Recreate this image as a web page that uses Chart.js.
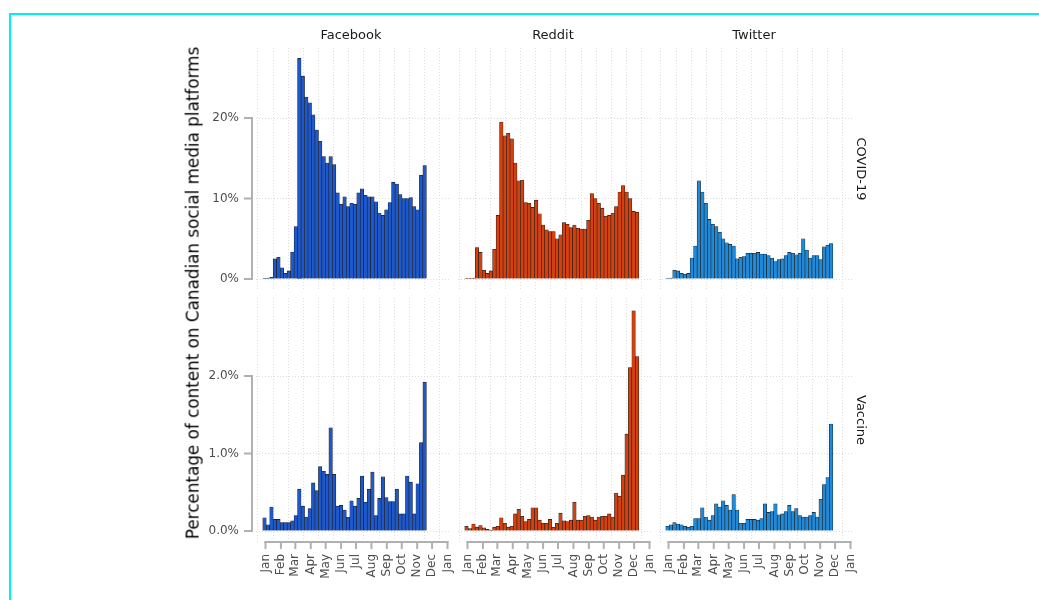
<!DOCTYPE html>
<html><head><meta charset="utf-8">
<script src="https://cdn.jsdelivr.net/npm/chart.js@4.4.1/dist/chart.umd.min.js"></script>
<style>
body{margin:0;background:#fff;width:1039px;height:600px;overflow:hidden;position:relative;font-family:"DejaVu Sans",sans-serif;}
#frame{position:absolute;left:9px;top:13px;width:1200px;height:800px;border-left:2px solid #00f0f0;border-top:2px solid #00f0f0;}
canvas{position:absolute;}
.lbl{position:absolute;white-space:nowrap;color:#1a1a1a;line-height:1;}
</style></head><body>
<div id="frame"></div>
<script>
// ---- data (weekly share of content, %) ----
const platforms = ['Facebook', 'Reddit', 'Twitter'];
const topics = ['COVID-19', 'Vaccine'];
const monthLabels = ['Jan','Feb','Mar','Apr','May','Jun','Jul','Aug','Sep','Oct','Nov','Dec','Jan'];
const monthStarts = [0,31,60,91,121,152,182,213,244,274,305,335,366]; // day of year 2020
const firstWeekDay = -2; // weeks start Mon 30 Dec 2019

const fbCovid = [0.05,0.1,0.2,2.5,2.7,1.4,0.7,1.0,3.35,6.5,27.4,25.2,22.6,21.9,20.4,18.5,17.1,15.2,14.4,15.2,14.2,10.7,9.3,10.2,9.0,9.4,9.3,10.7,11.2,10.4,10.2,10.2,9.6,8.2,7.9,8.6,9.5,12.0,11.8,10.5,10.0,10.0,10.1,9.0,8.6,12.9,14.1];
const rdCovid = [0.05,0.05,0.1,3.9,3.3,1.1,0.7,1.0,3.7,7.9,19.5,17.8,18.1,17.4,14.4,12.2,12.3,9.5,9.4,8.9,9.8,8.1,6.7,6.1,5.9,5.9,5.0,5.5,7.0,6.8,6.4,6.7,6.3,6.2,6.2,7.3,10.6,10.0,9.4,8.8,7.8,7.9,8.2,9.0,10.8,11.6,10.8,10.0,8.4,8.3];
const twCovid = [0.05,0.1,1.1,1.0,0.7,0.6,0.7,2.6,4.1,12.2,10.8,9.4,7.4,6.8,6.5,5.8,5.0,4.5,4.3,4.1,2.5,2.7,2.8,3.2,3.2,3.2,3.3,3.1,3.1,2.9,2.6,2.15,2.4,2.5,2.9,3.3,3.2,3.0,3.2,5.0,3.6,2.6,2.9,2.9,2.4,4.0,4.2,4.4];
const fbVax = [0.17,0.08,0.31,0.15,0.15,0.11,0.11,0.11,0.13,0.2,0.54,0.32,0.18,0.29,0.62,0.52,0.83,0.77,0.73,1.33,0.73,0.32,0.33,0.27,0.18,0.39,0.32,0.42,0.71,0.37,0.54,0.76,0.2,0.42,0.70,0.43,0.38,0.38,0.54,0.22,0.22,0.71,0.63,0.22,0.61,1.14,1.92];
const rdVax = [0.06,0.03,0.09,0.05,0.07,0.04,0.02,0.01,0.05,0.06,0.17,0.1,0.05,0.06,0.22,0.28,0.19,0.12,0.15,0.3,0.3,0.14,0.1,0.1,0.15,0.05,0.1,0.23,0.13,0.12,0.14,0.37,0.14,0.14,0.19,0.2,0.18,0.14,0.18,0.19,0.19,0.22,0.18,0.49,0.45,0.72,1.25,2.11,2.84,2.25];
const twVax = [0.06,0.08,0.11,0.09,0.08,0.06,0.05,0.06,0.16,0.16,0.3,0.18,0.14,0.2,0.35,0.31,0.39,0.33,0.27,0.47,0.27,0.1,0.1,0.15,0.15,0.15,0.14,0.16,0.35,0.24,0.25,0.35,0.21,0.22,0.25,0.33,0.25,0.29,0.2,0.18,0.18,0.2,0.24,0.18,0.41,0.6,0.69,1.38];
const yTicksCovid = [0, 10, 20];
const yTicksVax = [0, 1, 2];

// ---- layout ----
const seriesGrid = [[fbCovid, rdCovid, twCovid],[fbVax, rdVax, twVax]];
const colors = ['#1d58cc', '#d4400e', '#1e8ad9'];
const colLeft = [256, 458, 659], panelW = 194;
const rowTop = [48, 298], rowH = [242, 244];
const yRange = [[-1.366, 28.696], [-0.1419, 3.0065]];
const yTicks = [yTicksCovid, yTicksVax];
const xMin = -19.1, xMax = 371.0;
const yAxisW = 62, xAxisH = 58, P = 14;
const tickFont = {family: 'DejaVu Sans', size: 12};
const tickColor = '#4d4d4d';
const axisGray = '#b0b0b0';
const gridGray = '#dcdcdc';

function addLabel(text, x, y, size, rot, color){
  const d = document.createElement('div');
  d.className = 'lbl';
  d.textContent = text;
  d.style.fontSize = size + 'px';
  if (color) d.style.color = color;
  d.style.left = x + 'px'; d.style.top = y + 'px';
  d.style.transform = 'translate(-50%,-50%)' + (rot ? ' rotate(' + rot + 'deg)' : '');
  document.body.appendChild(d);
}

const bracketPlugin = {
  id: 'bracket',
  afterDraw(chart, args, opts) {
    const ctx = chart.ctx, a = chart.chartArea;
    ctx.save();
    ctx.strokeStyle = axisGray; ctx.lineWidth = 2; ctx.lineCap = 'butt';
    if (opts.yAxis) {
      const ys = chart.scales.y, tv = opts.yTicks;
      const x = a.left - 4;
      const y0 = ys.getPixelForValue(tv[0]), y1 = ys.getPixelForValue(tv[tv.length-1]);
      ctx.beginPath(); ctx.moveTo(x, y0 + 1); ctx.lineTo(x, y1 - 1); ctx.stroke();
      tv.forEach(v => { const y = ys.getPixelForValue(v); ctx.beginPath(); ctx.moveTo(x - 8, y); ctx.lineTo(x + 1, y); ctx.stroke(); });
    }
    if (opts.xAxis) {
      const xs = chart.scales.x;
      const y = a.bottom;
      const x0 = xs.getPixelForValue(monthStarts[0]), x1 = xs.getPixelForValue(monthStarts[monthStarts.length-1]);
      ctx.beginPath(); ctx.moveTo(x0 - 1, y); ctx.lineTo(x1 + 1, y); ctx.stroke();
      monthStarts.forEach(v => { const x = xs.getPixelForValue(v); ctx.beginPath(); ctx.moveTo(x, y - 1); ctx.lineTo(x, y + 7); ctx.stroke(); });
    }
    ctx.restore();
  }
};

for (let r = 0; r < 2; r++) {
  for (let c = 0; c < 3; c++) {
    const vals = seriesGrid[r][c];
    const showY = c === 0, showX = r === 1;
    const cv = document.createElement('canvas');
    const w = P + (showY ? yAxisW : 0) + panelW + P;
    const h = P + rowH[r] + (showX ? xAxisH : P);
    cv.width = w; cv.height = h;
    cv.style.width = w + 'px'; cv.style.height = h + 'px';
    cv.style.left = (colLeft[c] - (showY ? yAxisW : 0) - P) + 'px';
    cv.style.top = (rowTop[r] - P) + 'px';
    document.body.appendChild(cv);
    const pts = vals.map((v, i) => ({x: firstWeekDay + 7 * i, y: v}));
    const tv = yTicks[r];
    new Chart(cv, {
      type: 'bar',
      data: { datasets: [{ data: pts, backgroundColor: colors[c], borderColor: '#1b1b1b', borderWidth: 0.6, borderSkipped: 'start', barPercentage: 1, categoryPercentage: 1 }] },
      options: {
        responsive: false, animation: false, devicePixelRatio: 1,
        layout: { autoPadding: false, padding: { left: P, right: P, top: P, bottom: showX ? 0 : P } },
        plugins: { legend: { display: false }, tooltip: { enabled: false }, bracket: { yAxis: showY, xAxis: showX, yTicks: tv } },
        scales: {
          x: {
            type: 'linear', min: xMin, max: xMax, offset: false,
            afterBuildTicks: s => { s.ticks = monthStarts.map(v => ({value: v})); },
            afterFit: s => { s.height = showX ? xAxisH : 0; },
            ticks: { display: showX, autoSkip: false, minRotation: 90, maxRotation: 90, padding: 0, font: tickFont, color: tickColor,
                     callback: (v, i) => monthLabels[i] },
            grid: { drawTicks: showX, tickLength: 12, tickColor: 'rgba(0,0,0,0)', color: gridGray, lineWidth: 1 },
            border: { display: false, dash: [1, 2] }
          },
          y: {
            type: 'linear', min: yRange[r][0], max: yRange[r][1],
            afterBuildTicks: s => { s.ticks = tv.map(v => ({value: v})); },
            afterFit: s => { s.width = showY ? yAxisW : 0; },
            ticks: { display: showY, padding: 0, font: tickFont, color: tickColor,
                     callback: v => r === 0 ? v + '%' : v.toFixed(1) + '%' },
            grid: { drawTicks: showY, tickLength: 17, tickColor: 'rgba(0,0,0,0)', color: gridGray, lineWidth: 1 },
            border: { display: false, dash: [1, 2] }
          }
        }
      },
      plugins: [bracketPlugin]
    });
  }
}

// facet strips
platforms.forEach((p, c) => addLabel(p, colLeft[c] + panelW / 2 - 2, 34, 13, 0, '#1a1a1a'));
topics.forEach((t, r) => addLabel(t, 861, rowTop[r] + rowH[r] / 2, 13, 90, '#1a1a1a'));
addLabel('Percentage of content on Canadian social media platforms', 193, 293, 16.8, -90, '#000');
</script>
</body></html>
